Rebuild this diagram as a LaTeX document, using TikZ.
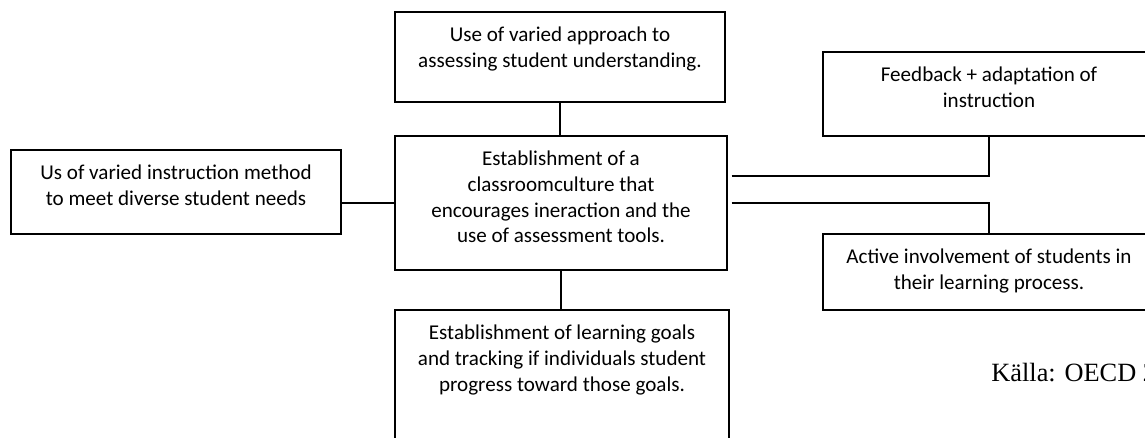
\documentclass[tikz,border=0pt]{standalone}
\usepackage{fontspec}
\setmainfont{Carlito}
\newfontfamily\srcfont{Liberation Serif}
\usetikzlibrary{positioning}
% text set from the top of a box of fixed size
\newcommand{\boxtext}[3]{\parbox[c][#2][t]{#1}{\centering\vspace*{6.5pt}\strut#3}}

\begin{document}
\begin{tikzpicture}[x=0.02cm, y=-0.02cm,
    block/.style={draw, line width=0.8pt, inner sep=0pt,
      font=\fontsize{12}{14.7}\selectfont},
    link/.style={line width=1.1pt}]
    \useasboundingbox (0,0) rectangle (1145,438);
    \clip (0,0) rectangle (1145,438);

    % centre and the four boxes round it
    \node[block] (culture) at (561,203) {\boxtext{6.64cm}{2.68cm}{Establishment of a\\ classroomculture that\\ encourages ineraction and the\\ use of assessment tools.}};
    \node[block] (use) at (560,57) {\boxtext{6.6cm}{1.8cm}{Use of varied approach to\\ assessing student understanding.}};
    \node[block] (method) at (176,192) {\boxtext{6.6cm}{1.68cm}{Us of varied instruction method\\ to meet diverse student needs}};
    \node[block] (goals) at (562,380) {\boxtext{6.68cm}{2.8cm}{Establishment of learning goals\\ and tracking if individuals student\\ progress toward those goals.}};
    \node[block] (feed) at (989,94) {\boxtext{6.64cm}{1.68cm}{Feedback + adaptation of\\ instruction}};
    \node[block] (act) at (989,272) {\boxtext{6.64cm}{1.52cm}{Active involvement of students in\\ their learning process.}};

    \draw[link] (use.south) -- (use.south |- culture.north);
    \draw[link] (culture.south) -- (culture.south |- goals.north);
    \draw[link] (culture.west) -- (culture.west -| method.east);
    \draw[link] ([xshift=0.08cm, yshift=0.54cm]culture.east) -| (feed.south);
    \draw[link] ([xshift=0.08cm]culture.east) -| (act.north);

    \node[anchor=base west, inner sep=0pt, font=\srcfont\fontsize{15}{18}\selectfont] (source) at (991,382) {Källa: OECD 2};
\end{tikzpicture}
\end{document}
